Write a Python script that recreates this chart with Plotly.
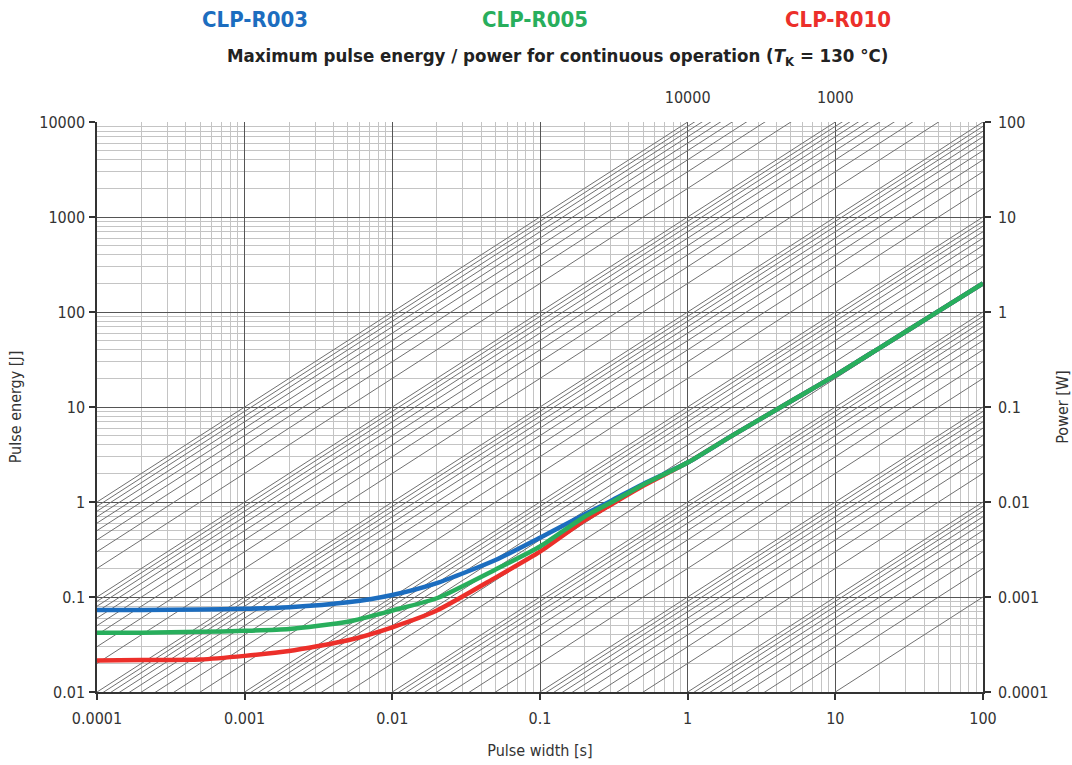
import plotly.graph_objects as go

# ---------------- data ----------------
pulse_width = [1e-4, 2e-4, 5e-4, 1e-3, 2e-3, 5e-3, 0.01, 0.02, 0.05, 0.1, 0.2, 0.3, 0.5,
               1, 2, 5, 10, 20, 50, 100]
energy_r003 = [0.073, 0.073, 0.074, 0.075, 0.078, 0.088, 0.105, 0.14, 0.245, 0.42, 0.74, 1.02, 1.55,
               2.6, 5.0, 11.5, 21.5, 42, 102, 200]
energy_r005 = [0.042, 0.042, 0.043, 0.044, 0.046, 0.055, 0.072, 0.097, 0.195, 0.34, 0.70, 0.98, 1.52,
               2.6, 5.0, 11.5, 21.5, 42, 102, 200]
energy_r010 = [0.0215, 0.0217, 0.022, 0.024, 0.027, 0.035, 0.048, 0.072, 0.16, 0.30, 0.64, 0.93, 1.48,
               2.6, 5.0, 11.5, 21.5, 42, 102, 200]
series_names = ["CLP-R003", "CLP-R005", "CLP-R010"]
series_colors = ["#1c6dbf", "#28ae5c", "#ec2f2a"]

# constant-power guide lines  E = P * t
power_lines = [m * 10.0 ** k for k in range(-3, 4) for m in range(1, 10)] + [10000.0]

x_tickvals = [1e-4, 1e-3, 1e-2, 1e-1, 1, 10, 100]
x_ticktext = ["0.0001", "0.001", "0.01", "0.1", "1", "10", "100"]
y_tickvals = [0.01, 0.1, 1, 10, 100, 1000, 10000]
y_ticktext = ["0.01", "0.1", "1", "10", "100", "1000", "10000"]
y2_tickvals = [1e-4, 1e-3, 1e-2, 1e-1, 1, 10, 100]
y2_ticktext = ["0.0001", "0.001", "0.01", "0.1", "1", "10", "100"]
top_tickvals = [1, 10]
top_ticktext = ["10000", "1000"]

FONT = "DejaVu Sans Condensed, sans-serif"
TXT = "#333333"

fig = go.Figure()

# diagonal constant-power lines (single trace, gaps between segments)
t_ends = [1e-4, 100]
dx, dy = [], []
for p in power_lines:
    dx += [t_ends[0], t_ends[1], None]
    dy += [p * t_ends[0], p * t_ends[1], None]
fig.add_trace(go.Scatter(x=dx, y=dy, mode="lines", line=dict(color="#707070", width=1),
                         hoverinfo="skip", showlegend=False))

curves = list(zip(series_names, series_colors, [energy_r003, energy_r005, energy_r010]))
for name, col, ys in [curves[2], curves[0], curves[1]]:
    fig.add_trace(go.Scatter(x=pulse_width, y=ys, mode="lines", name=name,
                             line=dict(color=col, width=4.5, shape="spline", smoothing=0.6),
                             showlegend=False))

# invisible traces to activate secondary axes
fig.add_trace(go.Scatter(x=[1e-4, 100], y=[1e-4, 100], yaxis="y2", mode="lines",
                         line=dict(width=0), hoverinfo="skip", showlegend=False, opacity=0))
fig.add_trace(go.Scatter(x=[1e-4, 100], y=[0.01, 10000], xaxis="x2", mode="lines",
                         line=dict(width=0), hoverinfo="skip", showlegend=False, opacity=0))

axis_common = dict(type="log", tickfont=dict(family=FONT, size=16, color=TXT),
                   linecolor="#333333", linewidth=1.5, ticks="outside", ticklen=6,
                   tickcolor="#333333", tickwidth=1.5, zeroline=False, automargin=False)

fig.update_layout(
    width=1072, height=765,
    margin=dict(l=97, r=89, t=122, b=73),
    paper_bgcolor="white", plot_bgcolor="white",
    font=dict(family=FONT, color=TXT),
    xaxis=dict(axis_common, range=[-4, 2], tickvals=x_tickvals, ticktext=x_ticktext,
               showgrid=True, gridcolor="#555555", gridwidth=1, ticklabelstandoff=5,
               minor=dict(dtick="D1", showgrid=True, gridcolor="#c4c4c4", gridwidth=1.2, ticks=""),
               showline=True, mirror=False,
               title=dict(text="Pulse width [s]", font=dict(family=FONT, size=16, color=TXT), standoff=18)),
    yaxis=dict(axis_common, range=[-2, 4], tickvals=y_tickvals, ticktext=y_ticktext,
               showgrid=True, gridcolor="#555555", gridwidth=1, ticklabelstandoff=1,
               minor=dict(dtick="D1", showgrid=True, gridcolor="#c4c4c4", gridwidth=1.2, ticks=""),
               showline=True,
               title=dict(text="Pulse energy [J]", font=dict(family=FONT, size=16, color=TXT), standoff=14)),
    yaxis2=dict(axis_common, range=[-4, 2], overlaying="y", side="right",
                tickvals=y2_tickvals, ticktext=y2_ticktext, showgrid=False, showline=True,
                ticklabelstandoff=4,
                title=dict(text="Power [W]", font=dict(family=FONT, size=16, color=TXT), standoff=14)),
    xaxis2=dict(type="log", range=[-4, 2], overlaying="x", side="top", tickvals=top_tickvals,
                ticktext=top_ticktext, showgrid=False, showline=False, zeroline=False,
                ticks="outside", ticklen=12, tickcolor="rgba(0,0,0,0)", automargin=False,
                tickfont=dict(family=FONT, size=16, color=TXT)),
)

# header: series names
name_x = [255, 535, 838]
for name, col, xp in zip(series_names, series_colors, name_x):
    fig.add_annotation(text="<b>" + name + "</b>", xref="paper", yref="paper",
                       x=(xp - 97) / 886, y=1 + (122 - 19) / 570, xanchor="center", yanchor="middle",
                       showarrow=False, font=dict(family=FONT, size=22, color=col))

fig.add_annotation(text="<b>Maximum pulse energy / power for continuous operation (<i>T</i><sub>K</sub> = 130 °C)</b>",
                   xref="paper", yref="paper", x=(557 - 97) / 886, y=1 + (122 - 57) / 570,
                   xanchor="center", yanchor="middle", showarrow=False,
                   font=dict(family=FONT, size=18.5, color="#222222"))

fig.write_html("out.html")
